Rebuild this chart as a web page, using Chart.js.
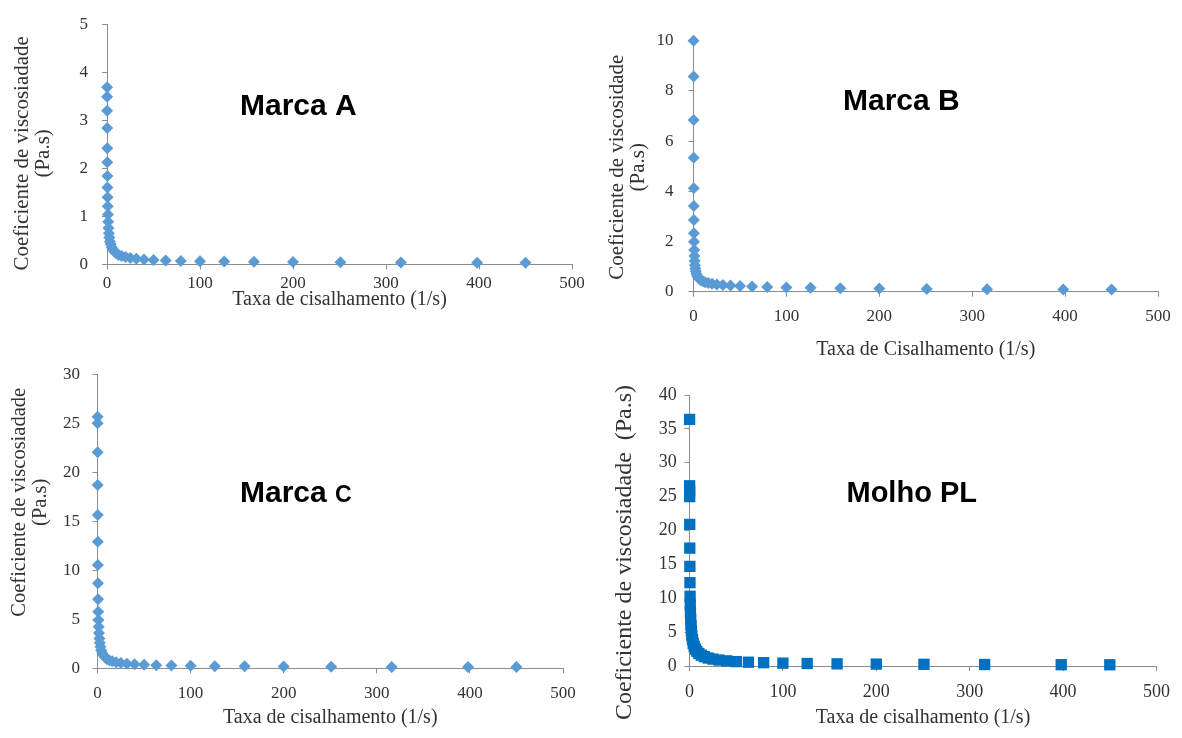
<!DOCTYPE html>
<html>
<head>
<meta charset="utf-8">
<title>Coeficiente de viscosidade</title>
<script src="https://cdn.jsdelivr.net/npm/chart.js@4/dist/chart.umd.min.js"></script>
<style>
  html, body { margin: 0; padding: 0; background: #ffffff; }
  #wrap { position: relative; width: 1182px; height: 738px; overflow: hidden; }
  #wrap canvas { position: absolute; left: 0; top: 0; }
</style>
</head>
<body>
<div id="wrap">
  <canvas id="chartA" width="1182" height="738"></canvas>
  <canvas id="chartB" width="1182" height="738"></canvas>
  <canvas id="chartC" width="1182" height="738"></canvas>
  <canvas id="chartD" width="1182" height="738"></canvas>
</div>
<script>
// Shear rates of the sweep (1/s)
const shearRate = [0.1, 0.126, 0.158, 0.2, 0.251, 0.316, 0.398, 0.501, 0.631, 0.794,
  1, 1.26, 1.58, 2, 2.51, 3.16, 3.98, 5.01, 6.31, 7.94,
  10, 12.6, 15.8, 20, 25.1, 31.6, 39.8, 50.1, 63.1, 79.4,
  100, 126, 158, 200, 251, 316, 398, 450];

// Apparent viscosity (Pa.s) for each sample
const viscMarcaA = [3.69, 3.49, 3.20, 2.84, 2.42, 2.13, 1.84, 1.60, 1.40, 1.21,
  1.04, 0.89, 0.76, 0.65, 0.56, 0.48, 0.42, 0.36, 0.31, 0.27,
  0.23, 0.20, 0.175, 0.155, 0.135, 0.12, 0.105, 0.095, 0.085, 0.075,
  0.068, 0.061, 0.055, 0.05, 0.046, 0.042, 0.039, 0.036];
const viscMarcaB = [10.0, 8.57, 6.84, 5.34, 4.12, 3.41, 2.86, 2.33, 1.99, 1.66,
  1.42, 1.22, 1.05, 0.92, 0.81, 0.72, 0.64, 0.57, 0.51, 0.46,
  0.42, 0.38, 0.35, 0.32, 0.29, 0.27, 0.25, 0.23, 0.21, 0.19,
  0.17, 0.155, 0.14, 0.125, 0.11, 0.10, 0.09, 0.085];
const viscMarcaC = [25.67, 25.0, 22.04, 18.7, 15.64, 12.92, 10.54, 8.67, 7.04, 5.78,
  4.93, 4.25, 3.6, 3.05, 2.6, 2.2, 1.85, 1.56, 1.32, 1.12,
  0.95, 0.82, 0.71, 0.62, 0.54, 0.47, 0.41, 0.36, 0.32, 0.28,
  0.25, 0.22, 0.2, 0.18, 0.16, 0.14, 0.13, 0.12];
const viscMolhoPL = [36.4, 26.6, 25.8, 25.0, 20.9, 17.4, 14.7, 12.3, 10.3, 9.0,
  7.9, 6.9, 6.0, 5.2, 4.5, 3.9, 3.35, 2.9, 2.5, 2.15,
  1.85, 1.6, 1.38, 1.18, 1.02, 0.88, 0.76, 0.65, 0.56, 0.49,
  0.42, 0.37, 0.32, 0.28, 0.25, 0.22, 0.19, 0.18];

// Axis ranges and labels
const xRange = [0, 500];
const xStep = 100;
const yRangeA = [0, 5],  yStepA = 1;
const yRangeB = [0, 10], yStepB = 2;
const yRangeC = [0, 30], yStepC = 5;
const yRangeD = [0, 40], yStepD = 5;

const captionA = [{ text: 'Marca A', size: 30 }];
const captionB = [{ text: 'Marca B', size: 30 }];
const captionC = [{ text: 'Marca ', size: 30 }, { text: 'C', size: 23 }];
const captionD = [{ text: 'Molho PL', size: 29 }];

const yTitleA = ['Coeficiente de viscosiadade', '(Pa.s)'];
const yTitleB = ['Coeficiente de viscosidade', '(Pa.s)'];
const yTitleC = ['Coeficiente de viscosiadade', '(Pa.s)'];
const yTitleD = ['Coeficiente de viscosiadade  (Pa.s)'];
const xTitleA = 'Taxa de cisalhamento (1/s)';
const xTitleB = 'Taxa de Cisalhamento (1/s)';
const xTitleC = 'Taxa de cisalhamento (1/s)';
const xTitleD = 'Taxa de cisalhamento (1/s)';

const SERIF = '"Liberation Serif", "Times New Roman", serif';
Chart.defaults.font.family = SERIF;
Chart.defaults.color = '#333333';

const AXIS_GREY = '#8c8c8c';
const TEXT_GREY = '#333333';

// Draws the sample name inside the plotting area
const captionPlugin = {
  id: 'caption',
  afterDatasetsDraw(chart, args, opts) {
    const { ctx, chartArea } = chart;
    ctx.save();
    ctx.fillStyle = '#000000';
    ctx.textAlign = 'left';
    ctx.textBaseline = 'alphabetic';
    let x = chartArea.left + opts.dx;
    const y = chartArea.top + opts.dy;
    for (const part of opts.parts) {
      ctx.font = 'bold ' + part.size + 'px "Liberation Sans", Arial, sans-serif';
      ctx.fillText(part.text, x, y);
      x += ctx.measureText(part.text).width;
    }
    ctx.restore();
  }
};

// Vertical value-axis title, placed beside the y axis
const sideTitlePlugin = {
  id: 'sideTitle',
  afterDraw(chart, args, opts) {
    const { ctx, chartArea } = chart;
    const cx = chartArea.left + opts.dx;
    const cy = (chartArea.top + chartArea.bottom) / 2 + opts.dy;
    ctx.save();
    ctx.translate(cx, cy);
    ctx.rotate(-Math.PI / 2);
    ctx.fillStyle = TEXT_GREY;
    ctx.textAlign = 'center';
    ctx.textBaseline = 'middle';
    ctx.font = opts.size + 'px ' + SERIF;
    opts.lines.forEach((line, i) => ctx.fillText(line, 0, i * opts.gap));
    ctx.restore();
  }
};

function makePanel(cfg) {
  const points = shearRate.map((x, i) => ({ x: x, y: cfg.values[i] }));
  return new Chart(document.getElementById(cfg.id), {
    type: 'scatter',
    data: {
      datasets: [{
        data: points,
        pointStyle: cfg.pointStyle,
        pointRadius: cfg.radius,
        pointHoverRadius: cfg.radius,
        backgroundColor: cfg.color,
        borderColor: cfg.color,
        borderWidth: 0,
        showLine: false,
        clip: false
      }]
    },
    options: {
      responsive: false,
      animation: false,
      events: [],
      layout: { padding: cfg.pad },
      plugins: {
        legend: { display: false },
        tooltip: { enabled: false },
        caption: { parts: cfg.caption, dx: cfg.capDx, dy: cfg.capDy },
        sideTitle: { lines: cfg.yTitle, dx: cfg.yTitleDx, dy: cfg.yTitleDy, size: cfg.yTitleSize, gap: 21 }
      },
      scales: {
        x: {
          type: 'linear',
          min: xRange[0], max: xRange[1],
          grid: { drawOnChartArea: false, drawTicks: true, tickLength: 5, color: AXIS_GREY },
          border: { display: true, color: AXIS_GREY, width: 1 },
          ticks: { stepSize: xStep, padding: cfg.xTickPad, color: TEXT_GREY, font: { size: cfg.tickSize } },
          title: { display: true, text: cfg.xTitle, color: TEXT_GREY, padding: 0, font: { size: 20, lineHeight: 1.2 } },
          afterFit(scale) { scale.height = cfg.xH; }
        },
        y: {
          type: 'linear',
          min: cfg.yRange[0], max: cfg.yRange[1],
          grid: { drawOnChartArea: false, drawTicks: true, tickLength: 5, color: AXIS_GREY },
          border: { display: true, color: AXIS_GREY, width: 1 },
          ticks: { stepSize: cfg.yStep, padding: cfg.yTickPad, color: TEXT_GREY, font: { size: cfg.tickSize } },
          title: { display: false },
          afterFit(scale) { scale.width = cfg.yW; }
        }
      }
    },
    plugins: [captionPlugin, sideTitlePlugin]
  });
}

const diamondBlue = '#5b9bd5';
const squareBlue = '#0070c0';

makePanel({
  id: 'chartA', values: viscMarcaA, yRange: yRangeA, yStep: yStepA,
  pointStyle: 'rectRot', radius: 6, color: diamondBlue,
  caption: captionA, capDx: 133, capDy: 90.5,
  yTitle: yTitleA, yTitleDx: -85, yTitleDy: 9, yTitleSize: 21,
  xTitle: xTitleA, tickSize: 17,
  pad: { left: 11.5, right: 610, top: 19.5, bottom: 426 },
  yW: 95.5, xH: 47.5, yTickPad: 14, xTickPad: 4
});

makePanel({
  id: 'chartB', values: viscMarcaB, yRange: yRangeB, yStep: yStepB,
  pointStyle: 'rectRot', radius: 6, color: diamondBlue,
  caption: captionB, capDx: 149.5, capDy: 69.3,
  yTitle: yTitleB, yTitleDx: -76.5, yTitleDy: 1, yTitleSize: 21,
  xTitle: xTitleB, tickSize: 17,
  pad: { left: 606.5, right: 24, top: 40.7, bottom: 376 },
  yW: 87, xH: 70.3, yTickPad: 15, xTickPad: 9.8
});

makePanel({
  id: 'chartC', values: viscMarcaC, yRange: yRangeC, yStep: yStepC,
  pointStyle: 'rectRot', radius: 6, color: diamondBlue,
  caption: captionC, capDx: 142.5, capDy: 127.4,
  yTitle: yTitleC, yTitleDx: -78, yTitleDy: -19, yTitleSize: 20.5,
  xTitle: xTitleC, tickSize: 17,
  pad: { left: 9.5, right: 619, top: 374.3, bottom: 7.8 },
  yW: 88, xH: 61.9, yTickPad: 12.5, xTickPad: 9.8
});

makePanel({
  id: 'chartD', values: viscMolhoPL, yRange: yRangeD, yStep: yStepD,
  pointStyle: 'rect', radius: 8, color: squareBlue,
  caption: captionD, capDx: 157, capDy: 106.7,
  yTitle: yTitleD, yTitleDx: -64.5, yTitleDy: 22, yTitleSize: 24,
  xTitle: xTitleD, tickSize: 18,
  pad: { left: 614.5, right: 25.5, top: 395, bottom: 7.8 },
  yW: 75, xH: 64.2, yTickPad: 7.8, xTickPad: 10.5
});
</script>
</body>
</html>
